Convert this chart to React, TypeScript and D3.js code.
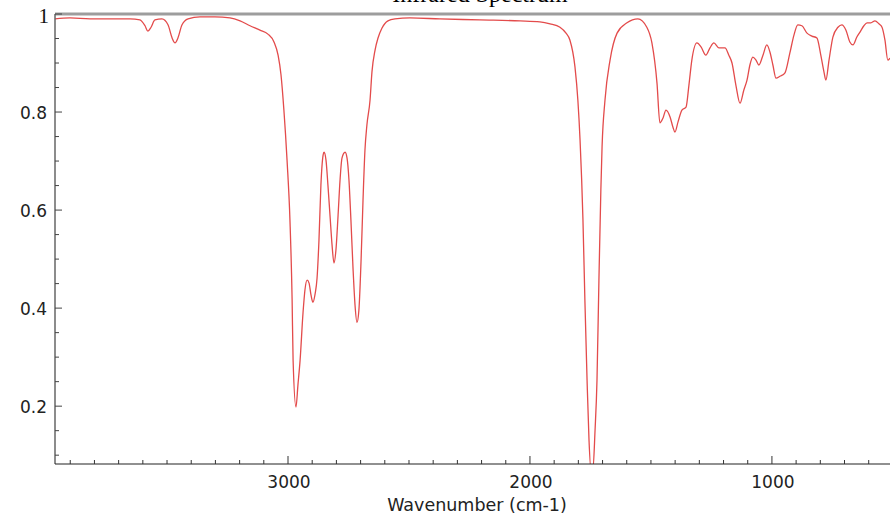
import React, { useEffect, useRef } from 'react';
import * as d3 from 'd3';

// IR spectrum (wavenumber in cm-1, transmittance)
const wavenumbers = [
  3963, 3901, 3818, 3736, 3653, 3612, 3591, 3579, 3566, 3550, 3521, 3496, 3479, 3467, 3455, 3438, 3413,
  3364, 3302, 3240, 3198, 3157, 3116, 3083, 3058, 3041, 3029, 3017, 3004, 2992, 2983, 2979, 2967, 2959,
  2950, 2938, 2930, 2921, 2913, 2905, 2897, 2888, 2880, 2872, 2864, 2855, 2851, 2843, 2835, 2826, 2818,
  2810, 2802, 2793, 2785, 2777, 2764, 2756, 2748, 2740, 2731, 2723, 2715, 2707, 2698, 2690, 2682, 2674,
  2661, 2653, 2640, 2628, 2612, 2587, 2558, 2496, 2372, 2207, 2041, 1959, 1917, 1876, 1851, 1835, 1814,
  1802, 1793, 1781, 1773, 1764, 1756, 1748, 1740, 1731, 1723, 1715, 1707, 1702, 1690, 1669, 1640, 1599,
  1554, 1517, 1496, 1475, 1463, 1450, 1438, 1421, 1409, 1401, 1388, 1372, 1355, 1343, 1331, 1310, 1293,
  1273, 1256, 1240, 1219, 1194, 1178, 1165, 1149, 1132, 1116, 1103, 1091, 1079, 1066, 1054, 1037, 1021,
  1008, 996, 983, 967, 946, 926, 909, 893, 876, 855, 835, 814, 798, 785, 777, 764, 748, 727, 711, 694,
  678, 665, 649, 636, 620, 607, 591, 574, 558, 545, 533, 521, 512
];

const transmittance = [
  0.990, 0.992, 0.990, 0.990, 0.990, 0.988, 0.976, 0.965, 0.973, 0.988, 0.990, 0.978, 0.951, 0.941, 0.951, 0.978, 0.990,
  0.994, 0.994, 0.992, 0.986, 0.976, 0.967, 0.959, 0.943, 0.916, 0.876, 0.804, 0.702, 0.580, 0.416, 0.294, 0.198, 0.243,
  0.294, 0.390, 0.437, 0.457, 0.451, 0.427, 0.412, 0.429, 0.461, 0.539, 0.651, 0.712, 0.718, 0.702, 0.651, 0.586, 0.529,
  0.492, 0.518, 0.590, 0.661, 0.706, 0.718, 0.706, 0.661, 0.580, 0.478, 0.406, 0.371, 0.396, 0.498, 0.620, 0.722, 0.773,
  0.824, 0.882, 0.927, 0.951, 0.971, 0.986, 0.990, 0.992, 0.990, 0.988, 0.986, 0.984, 0.980, 0.973, 0.961, 0.947, 0.892,
  0.824, 0.743, 0.580, 0.416, 0.253, 0.131, 0.070, 0.070, 0.151, 0.253, 0.457, 0.641, 0.729, 0.824, 0.906, 0.961, 0.982,
  0.990, 0.973, 0.941, 0.859, 0.778, 0.788, 0.804, 0.790, 0.769, 0.759, 0.780, 0.804, 0.810, 0.855, 0.906, 0.941, 0.933,
  0.916, 0.931, 0.941, 0.931, 0.931, 0.916, 0.900, 0.855, 0.818, 0.845, 0.865, 0.896, 0.912, 0.906, 0.896, 0.916, 0.937,
  0.922, 0.896, 0.869, 0.873, 0.880, 0.920, 0.957, 0.978, 0.976, 0.961, 0.955, 0.951, 0.916, 0.882, 0.865, 0.906, 0.953, 0.973, 0.978, 0.967,
  0.943, 0.937, 0.953, 0.963, 0.976, 0.982, 0.982, 0.986, 0.980, 0.973, 0.947, 0.906, 0.910
];

const xTicks = [3000, 2000, 1000];
const yTicks = [0.2, 0.4, 0.6, 0.8];

const App = () => {
  const ref = useRef<SVGSVGElement>(null);

  useEffect(() => {
    const svg = d3.select(ref.current);
    svg.selectAll('*').remove();

    const left = 55, top = 14, right = 890, bottom = 464;
    const font = "'DejaVu Sans', sans-serif";

    const x = d3.scaleLinear().domain([3963, 512]).range([left, right]);
    const y = d3.scaleLinear().domain([0.082, 1]).range([bottom, top]);

    svg.append('clipPath').attr('id', 'plot-clip')
      .append('rect')
      .attr('x', left).attr('y', top - 2)
      .attr('width', right - left).attr('height', bottom - top + 2);

    // title sits mostly above the page edge, only its foot shows
    svg.append('text')
      .attr('x', 480).attr('y', 2)
      .attr('text-anchor', 'middle')
      .attr('font-family', 'serif')
      .attr('font-size', 24)
      .attr('fill', '#000')
      .text('Infrared Spectrum');

    const data = wavenumbers.map((w, i) => ({ w, t: transmittance[i] }));
    const line = d3.line<{ w: number; t: number }>()
      .x(d => x(d.w))
      .y(d => y(d.t))
      .curve(d3.curveMonotoneX);

    svg.append('path')
      .datum(data)
      .attr('clip-path', 'url(#plot-clip)')
      .attr('fill', 'none')
      .attr('stroke', '#e34b4b')
      .attr('stroke-width', 1.3)
      .attr('stroke-linejoin', 'round')
      .attr('d', line);

    // top frame line
    svg.append('line')
      .attr('x1', left).attr('x2', right)
      .attr('y1', top).attr('y2', top)
      .attr('stroke', '#9d9d9d').attr('stroke-width', 3);

    // left axis
    svg.append('line')
      .attr('x1', left).attr('x2', left)
      .attr('y1', top).attr('y2', bottom)
      .attr('stroke', '#666').attr('stroke-width', 1.5);

    const yMinor = d3.range(0.1, 1.0001, 0.05);
    svg.selectAll('.ytick')
      .data(yMinor)
      .enter().append('line')
      .attr('x1', left)
      .attr('x2', d => (Math.abs(d * 5 - Math.round(d * 5)) < 0.01 ? left + 7 : left + 4))
      .attr('y1', d => y(d)).attr('y2', d => y(d))
      .attr('stroke', '#444').attr('stroke-width', 1);

    svg.selectAll('.ylabel')
      .data(yTicks)
      .enter().append('text')
      .attr('x', left - 8)
      .attr('y', d => y(d) + 6.5)
      .attr('text-anchor', 'end')
      .attr('font-family', font)
      .attr('font-size', 17)
      .attr('fill', '#222')
      .text(d => d3.format('.1f')(d));

    svg.append('text')
      .attr('x', 49).attr('y', 23)
      .attr('text-anchor', 'end')
      .attr('font-family', 'serif')
      .attr('font-size', 21)
      .attr('fill', '#111')
      .text('1');

    // bottom axis
    svg.append('line')
      .attr('x1', left).attr('x2', right)
      .attr('y1', bottom).attr('y2', bottom)
      .attr('stroke', '#222').attr('stroke-width', 1.2);

    const xMinor = d3.range(600, 3901, 100);
    svg.selectAll('.xtick')
      .data(xMinor)
      .enter().append('line')
      .attr('x1', d => x(d)).attr('x2', d => x(d))
      .attr('y1', bottom)
      .attr('y2', d => (d % 1000 === 0 ? bottom - 8 : bottom - 4))
      .attr('stroke', '#333').attr('stroke-width', 1);

    svg.selectAll('.xlabel')
      .data(xTicks)
      .enter().append('text')
      .attr('x', d => x(d) + 1)
      .attr('y', 488)
      .attr('text-anchor', 'middle')
      .attr('font-family', font)
      .attr('font-size', 17)
      .attr('fill', '#222')
      .text(d => d);

    svg.append('text')
      .attr('x', 477).attr('y', 511)
      .attr('text-anchor', 'middle')
      .attr('font-family', font)
      .attr('font-size', 17.5)
      .attr('fill', '#222')
      .text('Wavenumber (cm-1)');
  }, []);

  return (
    <svg ref={ref} width={890} height={516}
      style={{ position: 'absolute', left: 0, top: 0, background: '#fff' }} />
  );
};

export default App;
